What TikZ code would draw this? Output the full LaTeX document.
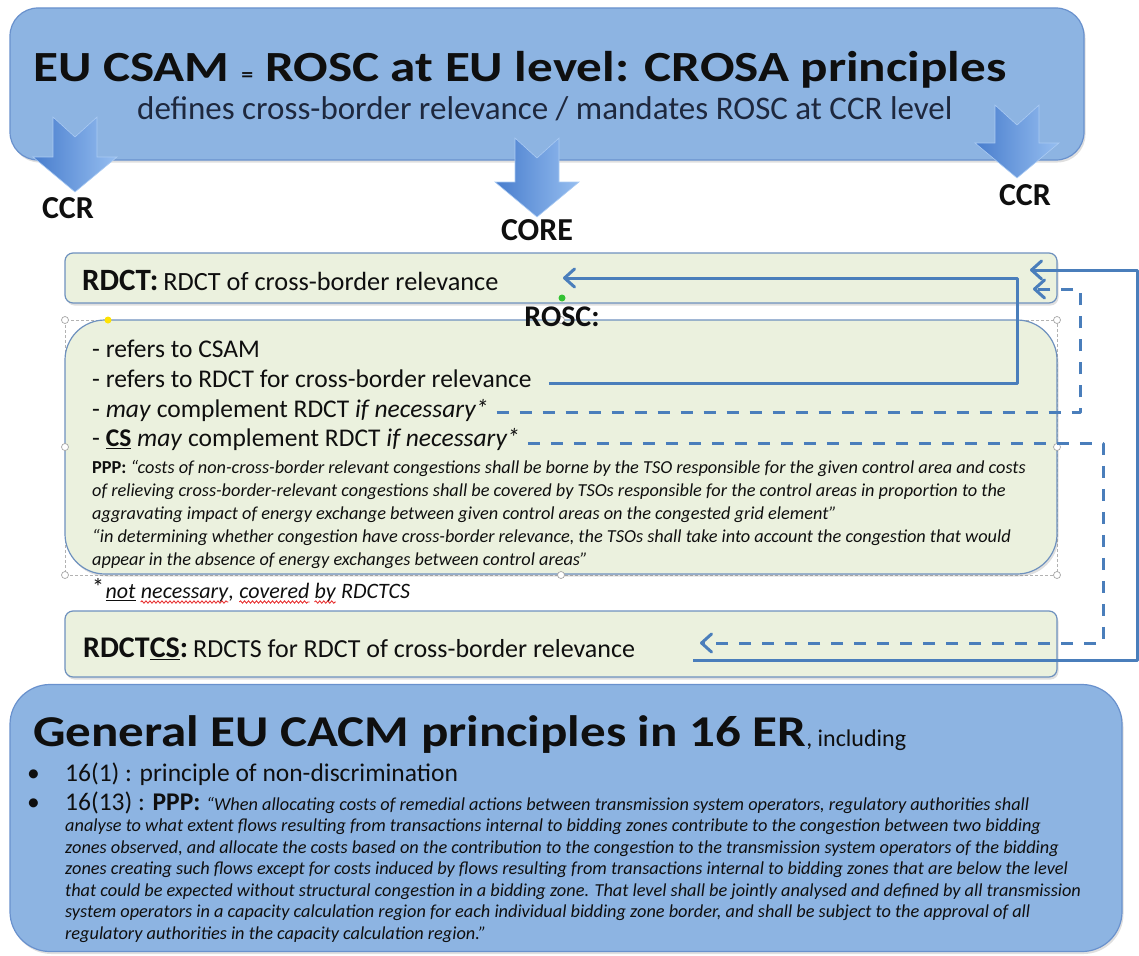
\documentclass[tikz,border=0pt]{standalone}
\usepackage{graphicx}
\usepackage{fontspec}
\setmainfont{Carlito}
\usetikzlibrary{arrows.meta,shadows,decorations.pathmorphing}

\definecolor{boxblue}{RGB}{141,180,226}
\definecolor{boxblueline}{RGB}{105,145,205}
\definecolor{boxgreen}{RGB}{235,241,222}
\definecolor{boxgreenline}{RGB}{110,145,190}
\definecolor{linkblue}{RGB}{74,126,187}
\definecolor{arrowdark}{RGB}{72,125,205}
\definecolor{arrowlight}{RGB}{150,190,240}
\definecolor{textdark}{RGB}{15,15,15}
\definecolor{subdark}{RGB}{30,40,62}
\definecolor{spellred}{RGB}{230,40,40}

\newcommand\thickul[1]{\vtop{\hbox{#1}\kern1.5pt\hrule height 1.6pt}}
\newcommand\widetitle[2][1.16]{\scalebox{#1}[1]{#2}}

\begin{document}
\begin{tikzpicture}[x=1pt,y=-1pt,
    bluebox/.style={draw=boxblueline, fill=boxblue, line width=1.2pt,
        drop shadow={opacity=0.25, shadow xshift=1.5pt, shadow yshift=-2.5pt}},
    greenbox/.style={draw=boxgreenline, fill=boxgreen, line width=1.2pt,
        drop shadow={opacity=0.25, shadow xshift=1.5pt, shadow yshift=-2.5pt}},
    txt/.style={anchor=base west, inner sep=0pt, text=textdark},
    lbl/.style={anchor=base, inner sep=0pt, text=textdark, font=\fontsize{32}{36}\selectfont\bfseries},
    bigfont/.style={font=\fontsize{25.5}{30}\selectfont},
    smallfont/.style={font=\fontsize{18.3}{22}\selectfont\itshape},
    notefont/.style={txt, font=\fontsize{22}{26}\selectfont\itshape},
    spell/.style={draw=spellred, line width=0.8pt, decorate, decoration={snake, amplitude=1.2pt, segment length=4pt}},
    link/.style={draw=linkblue, line width=3pt, line join=round, -{Straight Barb[length=10pt,width=18pt,round]}},
    dlink/.style={link, dash pattern=on 12pt off 11pt},
    arrowfill/.style={left color=arrowdark, right color=arrowlight, draw=arrowlight!80!white, line width=0.6pt},
    handle/.style={circle, draw=gray!70, fill=white, line width=0.7pt, inner sep=0pt, minimum size=7pt}]

    \useasboundingbox (0,0) rectangle (1139,955);

    \node[bluebox, rounded corners=28, minimum width=1074, minimum height=152] (csam) at (547,84) {};
    \node[txt, font=\fontsize{43}{50}\selectfont\bfseries] (title) at (33,82)
        {\widetitle[1.19]{EU CSAM\hspace{10pt}{\fontsize{20}{22}\selectfont =}\hspace{10pt}ROSC at EU level: CROSA principles}};
    \node[txt, text=subdark, font=\fontsize{33}{38}\selectfont] (subtitle) at (137,119)
        {defines cross-border relevance / mandates ROSC at CCR level};

    \foreach \cx/\ty/\tp in {75/117/192, 537/138/217, 1017/105/178}
        \path[arrowfill] ({\cx-22},\ty) -- (\cx,{\ty+20}) -- ({\cx+22},\ty) -- ({\cx+22},{\tp-35})
            -- ({\cx+42},{\tp-35}) -- (\cx,\tp) -- ({\cx-42},{\tp-35}) -- ({\cx-22},{\tp-35}) -- cycle;
    \node[lbl] (ccrleft) at (68,218) {CCR};
    \node[lbl] (core) at (537,240) {CORE};
    \node[lbl] (ccrright) at (1025,205) {CCR};

    \node[greenbox, rounded corners=8, minimum width=992, minimum height=50] (rdctbox) at (561,278) {};
    \node[txt] (rdct) at (82,290)
        {{\fontsize{31}{34}\selectfont\bfseries RDCT:}\hspace{5pt}{\fontsize{26.3}{30}\selectfont RDCT of cross-border relevance}};

    \draw[gray!60, line width=0.7pt, dash pattern=on 3pt off 2pt] (65,320) rectangle (1057,575);
    \node[greenbox, rounded corners=40, minimum width=992, minimum height=254] (roscbox) at (561,447) {};
    \foreach \hx/\hy in {65/320, 1057/320, 65/447, 1057/447, 65/575, 561/575, 1057/575, 561/320}
        \node[handle] at (\hx,\hy) {};
    \node[circle, fill=yellow!85!orange, inner sep=0pt, minimum size=7pt] (adjust) at (108,320) {};
    \node[circle, fill=green!70!black!80, inner sep=0pt, minimum size=7pt] (rotate) at (562,298) {};
    \node[lbl, font=\fontsize{30}{34}\selectfont\bfseries] (rosc) at (562,326) {ROSC:};

    \node[txt, bigfont] (r1) at (92,357) {- refers to CSAM};
    \node[txt, bigfont] (r2) at (92,387) {- refers to RDCT for cross-border relevance};
    \node[txt, bigfont] (r3) at (92,417) {- \textit{may} complement RDCT \textit{if necessary*}};
    \node[txt, bigfont] (r4) at (92,446) {- \thickul{\textbf{CS}} \textit{may} complement RDCT \textit{if necessary*}};
    \node[txt, smallfont] (p1) at (92,473) {{\upshape\bfseries PPP:} “costs of non-cross-border relevant congestions shall be borne by the TSO responsible for the given control area and costs};
    \node[txt, smallfont] (p2) at (92,496) {of relieving cross-border-relevant congestions shall be covered by TSOs responsible for the control areas in proportion to the};
    \node[txt, smallfont] (p3) at (92,519) {aggravating impact of energy exchange between given control areas on the congested grid element”};
    \node[txt, smallfont] (p4) at (92,542) {“in determining whether congestion have cross-border relevance, the TSOs shall take into account the congestion that would};
    \node[txt, smallfont] (p5) at (92,565) {appear in the absence of energy exchanges between control areas”};

    \node[txt, font=\fontsize{24}{24}\selectfont] (star) at (92,595) {*};
    \node[notefont] (wnot) at ([xshift=1pt,yshift=-3pt]star.base east) {\thickul{not}};
    \node[notefont] (wnec) at ([xshift=5pt]wnot.base east) {necessary};
    \node[notefont] (wcomma) at (wnec.base east) {,};
    \node[notefont] (wcov) at ([xshift=5pt]wcomma.base east) {covered};
    \node[notefont] (wby) at ([xshift=5pt]wcov.base east) {by};
    \node[notefont] (wrdctcs) at ([xshift=5pt]wby.base east) {RDCTCS};
    \foreach \w in {wnec, wcov, wby}
        \draw[spell] ([yshift=-4pt]\w.base west) -- ([yshift=-4pt]\w.base east);

    \node[greenbox, rounded corners=8, minimum width=992, minimum height=66] (rdctcsbox) at (561,644) {};
    \node[txt] (rdctcs) at (83,657)
        {{\fontsize{30}{34}\selectfont\bfseries RDCT\thickul{CS}:}\hspace{5pt}{\fontsize{26}{30}\selectfont RDCTS for RDCT of cross-border relevance}};

    \node[bluebox, rounded corners=40, minimum width=1112, minimum height=267] (cacmbox) at (566,818) {};
    \node[txt, font=\fontsize{44}{50}\selectfont\bfseries] (cacm) at (33,746)
        {\widetitle{General EU CACM principles in 16 ER}{\fontsize{24}{26}\selectfont\mdseries, including}};
    \node[txt, bigfont] (dot1) at (27,781) {\textbullet};
    \node[txt, bigfont] (er1) at (65,781) {16(1) : principle of non-discrimination};
    \node[txt, bigfont] (dot2) at (27,810) {\textbullet};
    \node[txt, bigfont] (er2) at (65,810)
        {16(13) : \textbf{PPP:}\hspace{6pt}{\fontsize{18.3}{22}\selectfont\itshape “When allocating costs of remedial actions between transmission system operators, regulatory authorities shall}};
    \node[txt, smallfont] (q2) at (65,831.5) {analyse to what extent flows resulting from transactions internal to bidding zones contribute to the congestion between two bidding};
    \node[txt, smallfont] (q3) at (65,853) {zones observed, and allocate the costs based on the contribution to the congestion to the transmission system operators of the bidding};
    \node[txt, smallfont] (q4) at (65,874.5) {zones creating such flows except for costs induced by flows resulting from transactions internal to bidding zones that are below the level};
    \node[txt, smallfont] (q5) at (65,896) {that could be expected without structural congestion in a bidding zone. That level shall be jointly analysed and defined by all transmission};
    \node[txt, smallfont] (q6) at (65,917.5) {system operators in a capacity calculation region for each individual bidding zone border, and shall be subject to the approval of all};
    \node[txt, smallfont] (q7) at (65,939) {regulatory authorities in the capacity calculation region.”};

    \coordinate (rdctin) at (563,278);
    \coordinate (rdctin2) at (1030,270);
    \coordinate (rdctin3) at (1033,289);
    \coordinate (csin) at (700,643);
    \coordinate (csout) at (693,660);

    \draw[link] ([xshift=17pt,yshift=4pt]r2.base east) -| (1017,278) -- (rdctin);
    \draw[link] (csout) -| (1137,270) -- (rdctin2);
    \draw[dlink] ([xshift=8pt,yshift=5pt]r3.base east) -| (1080,289) -- (rdctin3);
    \draw[dlink] ([xshift=8pt,yshift=3pt]r4.base east) -| (1103,643) -- (csin);
\end{tikzpicture}
\end{document}
